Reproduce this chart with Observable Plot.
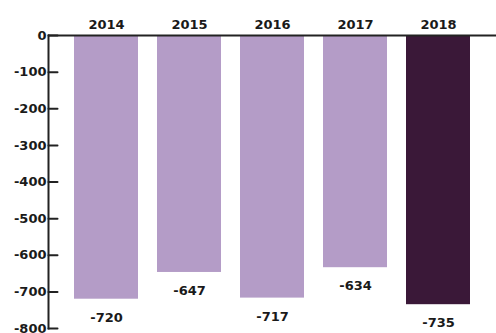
<!DOCTYPE html>
<html><head><meta charset="utf-8">
<script src="https://cdn.jsdelivr.net/npm/d3@7"></script>
<script src="https://cdn.jsdelivr.net/npm/@observablehq/plot@0.6"></script>
<style>body{margin:0;background:#fff;font-family:"DejaVu Sans",sans-serif;}</style>
</head><body><div id="chart"></div>
<script>
const years = ["2014","2015","2016","2017","2018"];
const values = [-720,-647,-717,-634,-735];
const highlight = ["no","no","no","no","yes"];
const yTicks = [0,-100,-200,-300,-400,-500,-600,-700,-800];

const data = years.map((y,i)=>({year:y, value:values[i], hl:highlight[i]}));
const tickShape = {draw(ctx, l) { ctx.moveTo(0, 0); ctx.lineTo(0, -l); }};

const chart = Plot.plot({
  width: 496, height: 333,
  marginLeft: 48, marginRight: 0, marginTop: 35, marginBottom: 5,
  style: {fontFamily: "DejaVu Sans, sans-serif", fontWeight: "bold", fontSize: "13px", color: "#1a1a1a"},
  x: {domain: years, paddingInner: 0.234, paddingOuter: 0.3, axis: null},
  y: {domain: [-800, 0], axis: null},
  color: {domain: ["no","yes"], range: ["#b49cc7","#3a1838"]},
  marks: [
    Plot.barY(data, {x: "year", y: "value", fill: "hl"}),
    Plot.ruleY([0], {stroke: "#222", strokeWidth: 2}),
    Plot.frame({anchor: "left", stroke: "#222", strokeWidth: 2}),
    Plot.vector(yTicks, {y: d => d, frameAnchor: "left", length: 9, rotate: 90, anchor: "start", shape: tickShape, stroke: "#222", strokeWidth: 2}),
    Plot.axisX({anchor: "top", tickSize: 0, tickPadding: 7, fontSize: 13, fontWeight: "bold", label: null}),
    Plot.axisY(yTicks, {anchor: "left", tickSize: 0, tickPadding: 2, fontSize: 13, fontWeight: "bold", label: null, tickFormat: d => String(d)}),
    Plot.text(data, {x: "year", y: "value", text: d => String(d.value), dy: 18.5, fontSize: 13, fontWeight: "bold", fill: "#1a1a1a"})
  ]
});
document.getElementById("chart").appendChild(chart);
</script>
</body></html>
